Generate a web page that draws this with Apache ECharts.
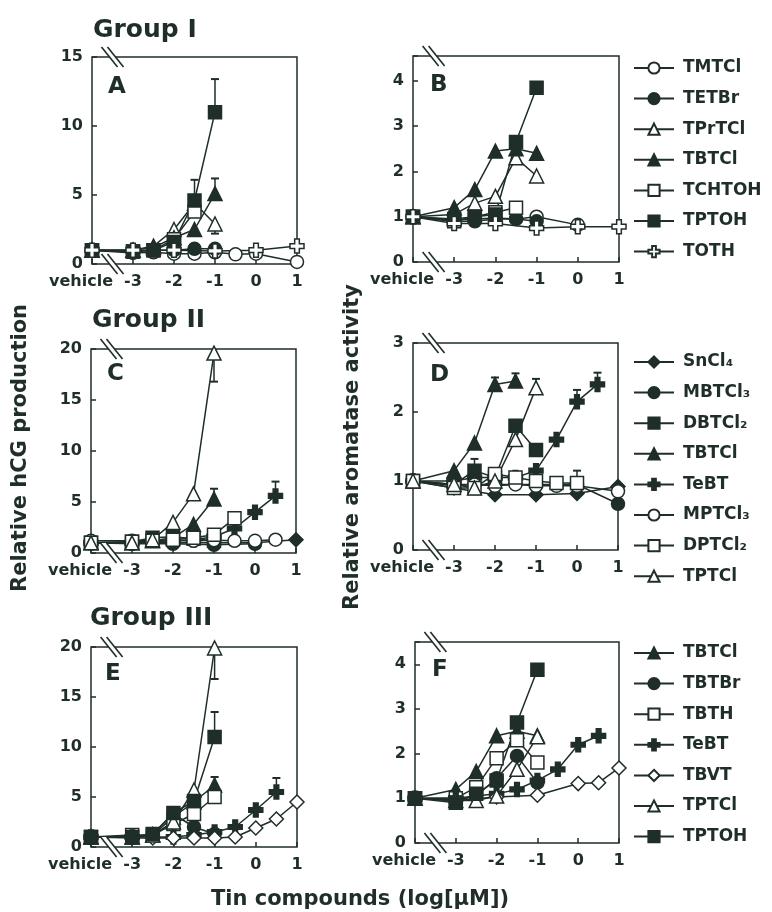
<!DOCTYPE html>
<html>
<head>
<meta charset="utf-8">
<script src="https://cdn.jsdelivr.net/npm/echarts@6/dist/echarts.min.js"></script>
<style>
  html, body { margin: 0; background: #fff; }
  #chart { width: 772px; height: 912px; }
</style>
</head>
<body>
<div id="chart"></div>
<script>
// doses in log[uM]; -4 stands for the vehicle control
const doses = [-4, -3, -2.5, -2, -1.5, -1, -0.5, 0, 0.5, 1];

// relative hCG production, group I
const hcgGroup1 = {
  TMTCl:  [1, 0.8, 0.85, 0.75, 0.75, 0.85, 0.7, 0.75, null, 0.15],
  TETBr:  [1, 0.9, 1.0, 1.0, 1.1, 1.1],
  TPrTCl: [1, 1.0, 1.3, 2.5, 4.4, 2.9],
  TBTCl:  [1, 1.0, 1.2, 1.9, 2.5, 5.1],
  TCHTOH: [1, 0.9, 1.0, 1.8, 3.8],
  TPTOH:  [1, 0.9, 1.0, 1.6, 4.6, 11.0],
  TOTH:   [1, 1.0, null, 1.0, null, 0.95, null, 1.0, null, 1.3]
};
// relative aromatase activity, group I
const aroGroup1 = {
  TMTCl:  [1, 0.93, 0.95, 0.97, 0.95, 1.0, null, 0.82],
  TETBr:  [1, 0.9, 0.9, 0.95, 0.95, 0.9],
  TPrTCl: [1, 1.05, 1.3, 1.45, 2.3, 1.9],
  TBTCl:  [1, 1.2, 1.6, 2.45, 2.5, 2.4],
  TCHTOH: [1, 0.9, 1.0, 1.1, 1.2],
  TPTOH:  [1, 0.95, 1.0, 1.05, 2.65, 3.85],
  TOTH:   [1, 0.85, null, 0.85, null, 0.75, null, 0.78, null, 0.78]
};
// group II
const hcgGroup2 = {
  'SnCl₄':  [1, 1.0, null, 1.0, null, 1.0, null, 1.0, null, 1.3],
  'MBTCl₃': [1, 0.9, null, 0.9, null, 0.8, null, 0.9],
  'DBTCl₂': [1, 1.1, 1.5, 1.6, 1.4, 1.2],
  TBTCl:    [1, 1.0, 1.2, 1.5, 2.8, 5.3],
  TeBT:     [1, 1.0, null, 1.2, 1.3, 1.6, 2.4, 4.0, 5.6],
  'MPTCl₃': [1.2, 1.2, 1.2, 1.2, 1.2, 1.25, 1.2, 1.2, 1.3],
  'DPTCl₂': [1, 1.1, 1.2, 1.3, 1.5, 1.8, 3.4],
  TPTCl:    [1, 1.0, 1.3, 3.0, 5.8, 19.6]
};
const aroGroup2 = {
  'SnCl₄':  [1, 0.9, null, 0.8, null, 0.8, null, 0.82, null, 0.92],
  'MBTCl₃': [1, 0.95, null, 0.95, null, 0.95, null, 0.95, null, 0.67],
  'DBTCl₂': [1, 0.95, 1.15, 1.05, 1.8, 1.45],
  TBTCl:    [1, 1.15, 1.55, 2.4, 2.45],
  TeBT:     [1, 1.0, 1.05, 1.05, 1.05, 1.15, 1.6, 2.15, 2.4],
  'MPTCl₃': [1, 0.93, 0.95, 0.93, 0.95, 0.93, 0.93, 0.93, null, 0.85],
  'DPTCl₂': [1, 0.9, 0.9, 1.1, 1.05, 1.0, 0.97, 0.97],
  TPTCl:    [1, 0.95, 0.9, 1.0, 1.6, 2.35]
};
// group III
const hcgGroup3 = {
  TBTCl: [1, 1.0, 1.2, 3.0, 4.5, 6.2],
  TBTBr: [1, 1.0, 1.3, 3.3, 2.0, 1.3],
  TBTH:  [1, 1.2, 1.2, 2.3, 3.3, 5.0],
  TeBT:  [1, 1.0, null, 1.0, 1.2, 1.5, 2.0, 3.7, 5.5],
  TBVT:  [1, 0.9, 0.9, 0.9, 0.9, 0.9, 1.0, 1.9, 2.8, 4.5],
  TPTCl: [1, 1.0, 1.2, 2.5, 5.7, 19.9],
  TPTOH: [1, 1.0, 1.3, 3.4, 4.6, 11.0]
};
const aroGroup3 = {
  TBTCl: [1, 1.2, 1.6, 2.4, 2.5, 2.4],
  TBTBr: [1, 0.95, 1.05, 1.45, 1.95, 1.35],
  TBTH:  [1, 1.0, 1.25, 1.9, 2.3, 1.8],
  TeBT:  [1, 1.0, null, 1.1, 1.2, 1.4, 1.65, 2.2, 2.4],
  TBVT:  [1, 0.95, null, 1.03, null, 1.07, null, 1.33, 1.35, 1.68],
  TPTCl: [1, 0.95, 0.95, 1.05, 1.65, 2.38],
  TPTOH: [1, 0.9, 1.1, 1.4, 2.7, 3.88]
};

// error bars: [dose, mean, end of bar]
const errA = [[-1, 11.0, 13.4], [-1.5, 4.6, 6.1], [-1, 5.1, 6.2], [-1, 2.9, 2.2]];
const errB = [];
const errC = [[-1, 19.6, 16.8], [-1, 5.3, 6.3], [0.5, 5.6, 7.0]];
const errD = [[-2, 2.4, 2.5], [-1.5, 2.45, 2.56], [-1, 2.35, 2.48], [-2.5, 1.15, 1.32],
              [0, 2.15, 2.32], [0.5, 2.4, 2.57], [0, 0.97, 1.15]];
const errE = [[-1, 19.9, 16.8], [-1, 11.0, 13.5], [-1, 6.2, 7.0], [0.5, 5.5, 6.9]];
const errF = [];

const legend1 = ['TMTCl', 'TETBr', 'TPrTCl', 'TBTCl', 'TCHTOH', 'TPTOH', 'TOTH'];
const legend2 = ['SnCl₄', 'MBTCl₃', 'DBTCl₂', 'TBTCl', 'TeBT', 'MPTCl₃', 'DPTCl₂', 'TPTCl'];
const legend3 = ['TBTCl', 'TBTBr', 'TBTH', 'TeBT', 'TBVT', 'TPTCl', 'TPTOH'];

const ink = '#1f2e28';
const font = 'DejaVu Sans';
const cross = 'path://M4,0H8V4H12V8H8V12H4V8H0V4H4Z';

// symbol, filled?
const marks = {
  TMTCl: ['circle', false], TETBr: ['circle', true], TPrTCl: ['triangle', false],
  TBTCl: ['triangle', true], TCHTOH: ['rect', false], TPTOH: ['rect', true],
  TOTH: [cross, false], 'SnCl₄': ['diamond', true], 'MBTCl₃': ['circle', true],
  'DBTCl₂': ['rect', true], TeBT: [cross, true], 'MPTCl₃': ['circle', false],
  'DPTCl₂': ['rect', false], TPTCl: ['triangle', false], TBTBr: ['circle', true],
  TBTH: ['rect', false], TBVT: ['diamond', false]
};

const panels = [
  { grid: { left: 92, top: 57, width: 205, height: 207 }, ymax: 15, step: 5, data: hcgGroup1, names: legend1, err: errA, letter: 'A', lx: 108, ly: 89 },
  { grid: { left: 413, top: 56, width: 206, height: 206 }, ymax: 4.55, step: 1, data: aroGroup1, names: legend1, err: errB, letter: 'B', lx: 430, ly: 87 },
  { grid: { left: 91, top: 349, width: 205, height: 204 }, ymax: 20, step: 5, data: hcgGroup2, names: legend2, err: errC, letter: 'C', lx: 107, ly: 376 },
  { grid: { left: 413, top: 343, width: 205, height: 207 }, ymax: 3, step: 1, data: aroGroup2, names: legend2, err: errD, letter: 'D', lx: 430, ly: 377 },
  { grid: { left: 91, top: 647, width: 206, height: 200 }, ymax: 20, step: 5, data: hcgGroup3, names: legend3, err: errE, letter: 'E', lx: 105, ly: 676 },
  { grid: { left: 415, top: 642, width: 204, height: 201 }, ymax: 4.5, step: 1, data: aroGroup3, names: legend3, err: errF, letter: 'F', lx: 432, ly: 672 }
];

function renderBreak(params, api) {
  const p = api.coord([api.value(0), api.value(1)]);
  const dx = 8, dy = 10, g = 3;
  return {
    type: 'group',
    children: [
      { type: 'polygon', shape: { points: [[p[0] - dx - g, p[1] - dy], [p[0] - dx + g, p[1] - dy], [p[0] + dx + g, p[1] + dy], [p[0] + dx - g, p[1] + dy]] }, style: { fill: '#fff' } },
      { type: 'line', shape: { x1: p[0] - dx - g, y1: p[1] - dy, x2: p[0] + dx - g, y2: p[1] + dy }, style: { stroke: ink, lineWidth: 1.6 } },
      { type: 'line', shape: { x1: p[0] - dx + g, y1: p[1] - dy, x2: p[0] + dx + g, y2: p[1] + dy }, style: { stroke: ink, lineWidth: 1.6 } }
    ]
  };
}

function renderErr(params, api) {
  const a = api.coord([api.value(0), api.value(1)]);
  const b = api.coord([api.value(0), api.value(2)]);
  return {
    type: 'group',
    children: [
      { type: 'line', shape: { x1: a[0], y1: a[1], x2: b[0], y2: b[1] }, style: { stroke: ink, lineWidth: 1.5 } },
      { type: 'line', shape: { x1: b[0] - 4, y1: b[1], x2: b[0] + 4, y2: b[1] }, style: { stroke: ink, lineWidth: 2 } }
    ]
  };
}

const grids = [], xAxes = [], yAxes = [], series = [], graphics = [];

panels.forEach((p, gi) => {
  grids.push(Object.assign({ show: true, borderColor: ink, borderWidth: 1.5, backgroundColor: 'transparent' }, p.grid));
  xAxes.push({
    type: 'value', gridIndex: gi, min: -4, max: 1, interval: 1,
    axisLine: { show: false, onZero: false }, splitLine: { show: false },
    axisTick: { inside: true, length: 5, lineStyle: { color: ink, width: 1.5 } },
    axisLabel: {
      color: ink, fontFamily: font, fontWeight: 'bold', fontSize: 16, margin: 10,
      formatter: v => v === -4 ? '{v|vehicle}' : String(v),
      rich: { v: { color: ink, fontFamily: font, fontWeight: 'bold', fontSize: 16, padding: [0, 22, 0, 0] } }
    }
  });
  yAxes.push({
    type: 'value', gridIndex: gi, min: 0, max: p.ymax, interval: p.step,
    axisLine: { show: false, onZero: false }, splitLine: { show: false },
    axisTick: { inside: true, length: 5, lineStyle: { color: ink, width: 1.5 } },
    axisLabel: {
      color: ink, fontFamily: font, fontWeight: 'bold', fontSize: 16, margin: 9,
      formatter: v => Number.isInteger(v) ? String(v) : ''
    }
  });
  series.push({
    type: 'custom', xAxisIndex: gi, yAxisIndex: gi, silent: true, z: 1,
    renderItem: renderErr, data: p.err, encode: { x: 0, y: 1 }
  });
  p.names.forEach(name => {
    const m = marks[name];
    const vals = p.data[name];
    const pts = doses.map((d, i) => [d, vals[i]]).filter(pt => pt[1] != null);
    series.push({
      type: 'line', name, xAxisIndex: gi, yAxisIndex: gi, data: pts,
      clip: false, z: 2,
      symbol: m[0], symbolSize: m[0] === 'circle' || m[0] === 'rect' ? 13 : 14,
      showAllSymbol: true,
      lineStyle: { color: ink, width: 1.5 },
      itemStyle: { color: m[1] ? ink : '#fff', borderColor: ink, borderWidth: 1.5, opacity: 1 },
      emphasis: { disabled: true }
    });
  });
  series.push({
    type: 'custom', xAxisIndex: gi, yAxisIndex: gi, silent: true, z: 5, clip: false,
    renderItem: renderBreak, data: [[-3.5, 0], [-3.5, p.ymax]], encode: { x: 0, y: 1 }
  });
  graphics.push({
    type: 'text', left: p.lx, top: p.ly - 13,
    style: { text: p.letter, fill: ink, font: 'bold 23px "DejaVu Sans"' }
  });
});

const legendTops = [58, 352, 643];
const legends = [legend1, legend2, legend3].map((names, i) => ({
  orient: 'vertical', left: 633, top: legendTops[i], padding: 0,
  itemGap: 10.6, itemWidth: 40, itemHeight: 14, selectedMode: false,
  data: names,
  textStyle: { color: ink, fontFamily: font, fontWeight: 'bold', fontSize: 17, lineHeight: 20, padding: [0, 0, 0, 4] }
}));

const titleStyle = { fill: ink, font: 'bold 25px "DejaVu Sans"' };
graphics.push(
  { type: 'text', left: 93, top: 18, style: Object.assign({ text: 'Group I' }, titleStyle) },
  { type: 'text', left: 92, top: 308, style: Object.assign({ text: 'Group II' }, titleStyle) },
  { type: 'text', left: 90, top: 606, style: Object.assign({ text: 'Group III' }, titleStyle) },
  { type: 'text', x: 21, y: 448, rotation: Math.PI / 2,
    style: { text: 'Relative hCG production', fill: ink, font: 'bold 21px "DejaVu Sans"', textAlign: 'center', textVerticalAlign: 'middle' } },
  { type: 'text', x: 353, y: 447, rotation: Math.PI / 2,
    style: { text: 'Relative aromatase activity', fill: ink, font: 'bold 21px "DejaVu Sans"', textAlign: 'center', textVerticalAlign: 'middle' } },
  { type: 'text', x: 360, y: 900,
    style: { text: 'Tin compounds (log[μM])', fill: ink, font: 'bold 21px "DejaVu Sans"', textAlign: 'center', textVerticalAlign: 'middle' } }
);

const chart = echarts.init(document.getElementById('chart'));
chart.setOption({
  animation: false,
  backgroundColor: '#fff',
  grid: grids,
  xAxis: xAxes,
  yAxis: yAxes,
  legend: legends,
  series: series,
  graphic: graphics
});
</script>
</body>
</html>
